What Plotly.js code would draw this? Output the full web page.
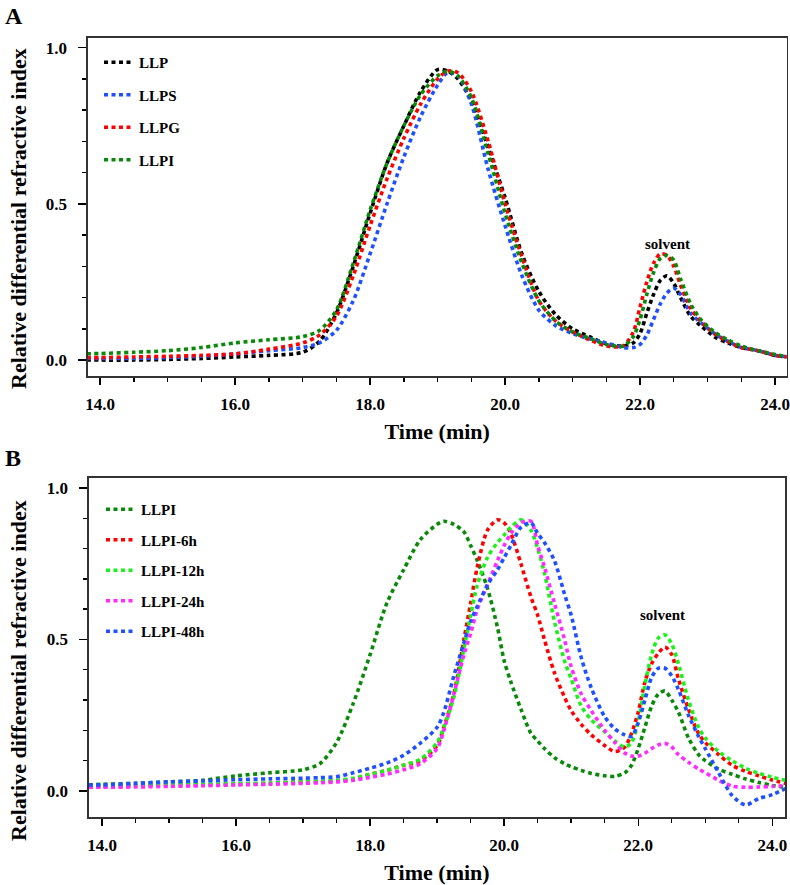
<!DOCTYPE html>
<html>
<head>
<meta charset="utf-8">
<script src="https://cdn.plot.ly/plotly-3.0.1.min.js"></script>
<style>html,body{margin:0;padding:0;background:#fff;}#chart{width:790px;height:885px;}</style>
</head>
<body>
<div id="chart"></div>
<script>
// ---------- Panel A data ----------
const timeA = [13.8, 14.0, 14.5, 15.0, 15.5, 16.0, 16.5, 17.0, 17.25, 17.5, 17.75, 18.0, 18.25, 18.5, 18.75, 19.0, 19.15, 19.3, 19.5, 19.75, 20.0, 20.25, 20.5, 20.75, 21.0, 21.25, 21.5, 21.75, 21.9, 22.0, 22.1, 22.2, 22.3, 22.4, 22.5, 22.6, 22.75, 22.9, 23.1, 23.3, 23.5, 23.75, 24.0, 24.2];
const LLP  = [0.0, 0.0, 0.0, 0.002, 0.005, 0.01, 0.015, 0.025, 0.06, 0.15, 0.30, 0.47, 0.63, 0.75, 0.86, 0.93, 0.925, 0.90, 0.83, 0.68, 0.52, 0.34, 0.22, 0.145, 0.10, 0.075, 0.052, 0.045, 0.055, 0.085, 0.15, 0.21, 0.255, 0.27, 0.245, 0.20, 0.14, 0.11, 0.075, 0.055, 0.04, 0.03, 0.015, 0.01];
const LLPS = [0.005, 0.005, 0.005, 0.008, 0.012, 0.02, 0.03, 0.04, 0.055, 0.095, 0.19, 0.34, 0.50, 0.65, 0.78, 0.88, 0.92, 0.91, 0.82, 0.61, 0.43, 0.27, 0.16, 0.11, 0.085, 0.068, 0.055, 0.04, 0.04, 0.05, 0.08, 0.13, 0.18, 0.215, 0.23, 0.21, 0.15, 0.12, 0.085, 0.06, 0.04, 0.03, 0.015, 0.01];
const LLPG = [0.008, 0.008, 0.01, 0.012, 0.015, 0.02, 0.035, 0.055, 0.08, 0.14, 0.27, 0.43, 0.58, 0.71, 0.82, 0.90, 0.925, 0.92, 0.86, 0.70, 0.50, 0.33, 0.19, 0.125, 0.09, 0.065, 0.045, 0.045, 0.09, 0.17, 0.25, 0.31, 0.34, 0.335, 0.30, 0.24, 0.165, 0.125, 0.085, 0.06, 0.04, 0.03, 0.015, 0.01];
const LLPI = [0.02, 0.021, 0.025, 0.03, 0.04, 0.055, 0.065, 0.075, 0.095, 0.16, 0.31, 0.48, 0.63, 0.75, 0.85, 0.91, 0.925, 0.91, 0.84, 0.66, 0.47, 0.31, 0.19, 0.125, 0.09, 0.07, 0.05, 0.045, 0.075, 0.13, 0.21, 0.28, 0.325, 0.335, 0.32, 0.26, 0.18, 0.13, 0.09, 0.065, 0.045, 0.03, 0.018, 0.01];

// ---------- Panel B data ----------
const timeB = [13.8, 14.0, 14.5, 15.0, 15.5, 16.0, 16.5, 17.0, 17.25, 17.5, 17.75, 18.0, 18.25, 18.5, 18.75, 19.0, 19.1, 19.25, 19.4, 19.5, 19.6, 19.75, 19.9, 20.0, 20.1, 20.25, 20.4, 20.5, 20.6, 20.75, 20.9, 21.0, 21.15, 21.3, 21.5, 21.65, 21.8, 21.9, 22.0, 22.1, 22.2, 22.3, 22.4, 22.5, 22.6, 22.75, 22.9, 23.0, 23.2, 23.4, 23.6, 23.8, 24.0, 24.2];
const LLPI_0h  = [0.02, 0.022, 0.025, 0.03, 0.035, 0.05, 0.06, 0.07, 0.09, 0.16, 0.29, 0.45, 0.62, 0.73, 0.83, 0.88, 0.89, 0.88, 0.855, 0.81, 0.76, 0.67, 0.54, 0.43, 0.36, 0.27, 0.19, 0.165, 0.14, 0.11, 0.09, 0.08, 0.068, 0.058, 0.05, 0.048, 0.06, 0.085, 0.14, 0.21, 0.28, 0.32, 0.33, 0.30, 0.26, 0.175, 0.12, 0.10, 0.072, 0.055, 0.04, 0.028, 0.018, 0.012];
const LLPI_6h  = [0.014, 0.015, 0.017, 0.02, 0.02, 0.022, 0.025, 0.03, 0.03, 0.033, 0.04, 0.055, 0.068, 0.085, 0.10, 0.15, 0.21, 0.32, 0.50, 0.62, 0.74, 0.86, 0.895, 0.885, 0.85, 0.75, 0.64, 0.58, 0.50, 0.39, 0.31, 0.265, 0.22, 0.185, 0.15, 0.13, 0.145, 0.19, 0.26, 0.36, 0.42, 0.455, 0.475, 0.45, 0.37, 0.27, 0.19, 0.16, 0.12, 0.085, 0.065, 0.05, 0.036, 0.025];
const LLPI_12h = [0.015, 0.016, 0.018, 0.02, 0.022, 0.024, 0.026, 0.03, 0.032, 0.035, 0.042, 0.055, 0.068, 0.085, 0.105, 0.16, 0.21, 0.31, 0.47, 0.58, 0.68, 0.77, 0.82, 0.845, 0.87, 0.895, 0.86, 0.80, 0.72, 0.56, 0.43, 0.37, 0.28, 0.235, 0.195, 0.165, 0.145, 0.16, 0.23, 0.35, 0.45, 0.505, 0.515, 0.485, 0.42, 0.30, 0.21, 0.175, 0.13, 0.10, 0.075, 0.058, 0.045, 0.035];
const LLPI_24h = [0.012, 0.012, 0.013, 0.015, 0.017, 0.02, 0.022, 0.025, 0.027, 0.03, 0.035, 0.045, 0.055, 0.07, 0.09, 0.14, 0.20, 0.32, 0.45, 0.52, 0.60, 0.68, 0.76, 0.81, 0.85, 0.885, 0.89, 0.81, 0.74, 0.62, 0.50, 0.41, 0.32, 0.265, 0.20, 0.16, 0.125, 0.115, 0.115, 0.125, 0.14, 0.152, 0.157, 0.145, 0.12, 0.095, 0.072, 0.06, 0.035, 0.016, 0.012, 0.013, 0.015, 0.018];
const LLPI_48h = [0.02, 0.02, 0.025, 0.03, 0.033, 0.037, 0.04, 0.042, 0.044, 0.047, 0.06, 0.075, 0.092, 0.118, 0.158, 0.21, 0.26, 0.38, 0.49, 0.56, 0.61, 0.68, 0.73, 0.77, 0.81, 0.87, 0.885, 0.85, 0.82, 0.76, 0.65, 0.58, 0.44, 0.34, 0.245, 0.205, 0.185, 0.18, 0.225, 0.30, 0.375, 0.405, 0.405, 0.38, 0.335, 0.25, 0.18, 0.14, 0.06, -0.015, -0.046, -0.025, -0.012, 0.008];

const namesA = ['LLP', 'LLPS', 'LLPG', 'LLPI'];
const namesB = ['LLPI', 'LLPI-6h', 'LLPI-12h', 'LLPI-24h', 'LLPI-48h'];
const xTickLabels = ['14.0', '16.0', '18.0', '20.0', '22.0', '24.0'];
const yTickLabels = ['0.0', '0.5', '1.0'];

// ---------- styling ----------
const FONT = "'Liberation Serif', 'Times New Roman', Times, serif";
const colorsA = ['#000000', '#1f50ff', '#ff0000', '#088a08'];
const colorsB = ['#088a08', '#ff0000', '#1ef01e', '#ff2aff', '#1f50ff'];
const DASH = '4px,3.5px';
const LW = 3.6;

const seriesA = [LLP, LLPS, LLPG, LLPI];
const seriesB = [LLPI_0h, LLPI_6h, LLPI_12h, LLPI_24h, LLPI_48h];

const traces = [];
seriesA.forEach((ys, i) => traces.push({
  x: timeA, y: ys, name: namesA[i], type: 'scatter', mode: 'lines',
  line: {color: colorsA[i], width: LW, dash: DASH, shape: 'spline', smoothing: 0.8},
  xaxis: 'x', yaxis: 'y', legend: 'legend', legendgroup: 'A' + i
}));
seriesB.forEach((ys, i) => traces.push({
  x: timeB, y: ys, name: namesB[i], type: 'scatter', mode: 'lines',
  line: {color: colorsB[i], width: LW, dash: DASH, shape: 'spline', smoothing: 0.8},
  xaxis: 'x2', yaxis: 'y2', legend: 'legend2', legendgroup: 'B' + i
}));

const W = 790, H = 885;
const tickFont = {family: FONT, size: 17, weight: 'bold', color: '#000'};
const titleFont = {family: FONT, size: 22, weight: 'bold', color: '#000'};
const legendFont = {family: FONT, size: 15, weight: 'bold', color: '#000'};

function xAxis(domain, range, anchor) {
  return {
    domain: domain, range: range, anchor: anchor,
    showline: true, linecolor: '#333', linewidth: 1.6, mirror: true,
    ticks: 'outside', ticklen: 7, tickwidth: 1.4, tickcolor: '#000',
    tickmode: 'array', tickvals: xTickLabels.map(Number), ticktext: xTickLabels,
    minor: {ticks: 'outside', ticklen: 4, tickwidth: 1.4, tickcolor: '#000', dtick: 0.5, tick0: 14},
    showgrid: false, zeroline: false, tickfont: tickFont, ticklabelstandoff: 5,
    title: {text: 'Time (min)', font: titleFont, standoff: 10}
  };
}
function yAxis(domain, range, anchor) {
  return {
    domain: domain, range: range, anchor: anchor,
    showline: true, linecolor: '#333', linewidth: 1.6, mirror: true,
    ticks: 'outside', ticklen: 8, tickwidth: 1.4, tickcolor: '#000',
    tickmode: 'array', tickvals: yTickLabels.map(Number), ticktext: yTickLabels,
    minor: {ticks: 'outside', ticklen: 4, tickwidth: 1.4, tickcolor: '#000', dtick: 0.1, tick0: 0},
    showgrid: false, zeroline: false, tickfont: tickFont, ticklabelstandoff: 8
  };
}

const layout = {
  width: W, height: H,
  margin: {l: 0, r: 0, t: 0, b: 0},
  paper_bgcolor: '#fff', plot_bgcolor: '#fff',
  font: {family: FONT, color: '#000'},
  xaxis: xAxis([88 / W, 786.5 / W], [13.82, 24.17], 'y'),
  yaxis: yAxis([1 - 376 / H, 1 - 38 / H], [-0.051, 1.031], 'x'),
  xaxis2: xAxis([89 / W, 785 / W], [13.806, 24.19], 'y2'),
  yaxis2: yAxis([1 - 817 / H, 1 - 478 / H], [-0.086, 1.033], 'x2'),
  legend: {
    x: 99 / W, xanchor: 'left', y: 1 - 46 / H, yanchor: 'top',
    bgcolor: 'rgba(0,0,0,0)', borderwidth: 0, tracegroupgap: 10, traceorder: 'grouped',
    font: legendFont
  },
  legend2: {
    x: 101 / W, xanchor: 'left', y: 1 - 493 / H, yanchor: 'top',
    bgcolor: 'rgba(0,0,0,0)', borderwidth: 0, tracegroupgap: 8, traceorder: 'grouped',
    font: legendFont
  },
  annotations: [
    {text: 'A', xref: 'paper', yref: 'paper', x: 3 / W, xanchor: 'left', y: 1 - 16 / H, yanchor: 'middle', showarrow: false, font: {family: FONT, size: 24, weight: 'bold'}},
    {text: 'B', xref: 'paper', yref: 'paper', x: 3 / W, xanchor: 'left', y: 1 - 458 / H, yanchor: 'middle', showarrow: false, font: {family: FONT, size: 24, weight: 'bold'}},
    {text: 'Relative differential refractive index', xref: 'paper', yref: 'paper', x: 18 / W, y: 1 - 219 / H, xanchor: 'center', yanchor: 'middle', textangle: -90, showarrow: false, font: titleFont},
    {text: 'Relative differential refractive index', xref: 'paper', yref: 'paper', x: 18 / W, y: 1 - 671 / H, xanchor: 'center', yanchor: 'middle', textangle: -90, showarrow: false, font: titleFont},
    {text: 'solvent', xref: 'x', yref: 'y', x: 22.4, y: 0.372, showarrow: false, font: {family: FONT, size: 15, weight: 'bold'}},
    {text: 'solvent', xref: 'x2', yref: 'y2', x: 22.36, y: 0.58, showarrow: false, font: {family: FONT, size: 15, weight: 'bold'}}
  ],
  showlegend: true
};

Plotly.newPlot('chart', traces, layout, {displayModeBar: false, staticPlot: true});
</script>
</body>
</html>
